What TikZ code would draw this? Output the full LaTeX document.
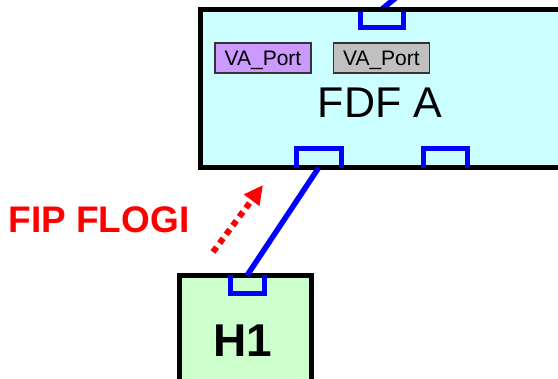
\documentclass[tikz,border=0pt]{standalone}
\usepackage{fontspec}
\setmainfont{Liberation Sans}
\usetikzlibrary{positioning,arrows.meta}

\definecolor{fdfcyan}{HTML}{CCFFFF}
\definecolor{hostgreen}{HTML}{CCFFCC}
\definecolor{vapurple}{HTML}{CC99FF}
\definecolor{vagray}{HTML}{C0C0C0}

\begin{document}
\begin{tikzpicture}[
  x=1pt,y=-1pt,
  switchbox/.style={draw,line width=5pt,inner sep=0pt,outer sep=0pt},
  portbox/.style={inner sep=0pt,outer sep=0pt},
  portline/.style={draw=blue,line width=5pt},
  vabox/.style={draw=black!80,line width=1.4pt,inner sep=0pt,minimum width=96pt,minimum height=30pt,
    text height=15pt,text depth=0pt,font=\fontsize{21}{24}\selectfont},
  link/.style={blue,line width=5.5pt},
  flogi/.style={red,line width=6pt,dash pattern=on 6pt off 5pt,-{Triangle[length=19pt,width=18pt]}}
]
\clip (0,0) rectangle (558,379);
% switch and host
\node[switchbox,fill=fdfcyan,minimum width=400pt,minimum height=158.5pt] (fdf) at (400,88.75) {};
\node[switchbox,fill=hostgreen,minimum width=131.5pt,minimum height=140pt] (h1) at (245.25,345.5) {};
\node[font=\fontsize{43}{50}\selectfont] (fdfname) at (380,103) {FDF A};
\node[font=\bfseries\fontsize{46}{54}\selectfont] (h1name) at (243,340.5) {H1};
\node[vabox,fill=vapurple] (vaone) at (263,58) {VA\_Port};
\node[vabox,fill=vagray,right=21pt of vaone] (vatwo) {VA\_Port};
% ports
\node[portbox,minimum width=43pt,minimum height=18.5pt] (fdftop) at (381.5,18.75) {};
\node[portbox,minimum width=45pt,minimum height=19pt] (fdfleft) at (318.5,158.5) {};
\node[portbox,minimum width=44pt,minimum height=19pt] (fdfright) at (445,158.5) {};
\node[portbox,minimum width=34pt,minimum height=18.5pt] (h1port) at (247,284.75) {};
\draw[portline] (fdftop.north west) -- (fdftop.south west) -- (fdftop.south east) -- (fdftop.north east);
\draw[portline] (fdfleft.south west) -- (fdfleft.north west) -- (fdfleft.north east) -- (fdfleft.south east);
\draw[portline] (fdfright.south west) -- (fdfright.north west) -- (fdfright.north east) -- (fdfright.south east);
\draw[portline] (h1port.north west) -- (h1port.south west) -- (h1port.south east) -- (h1port.north east);
% links
\coordinate (uplink) at (398,-4);
\draw[link] (h1port.north) -- (fdfleft.south);
\draw[link] (fdftop.north) -- (uplink);
\draw[line width=5pt] (fdf.north west) -- (fdf.north east);
% login
\node[red,font=\bfseries\fontsize{37}{44}\selectfont] (flogitext) at (99,220) {FIP FLOGI};
\coordinate (flogitail) at (213,252);
\coordinate (flogihead) at (263,185);
\draw[flogi] (flogitail) -- (flogihead);
\end{tikzpicture}
\end{document}
